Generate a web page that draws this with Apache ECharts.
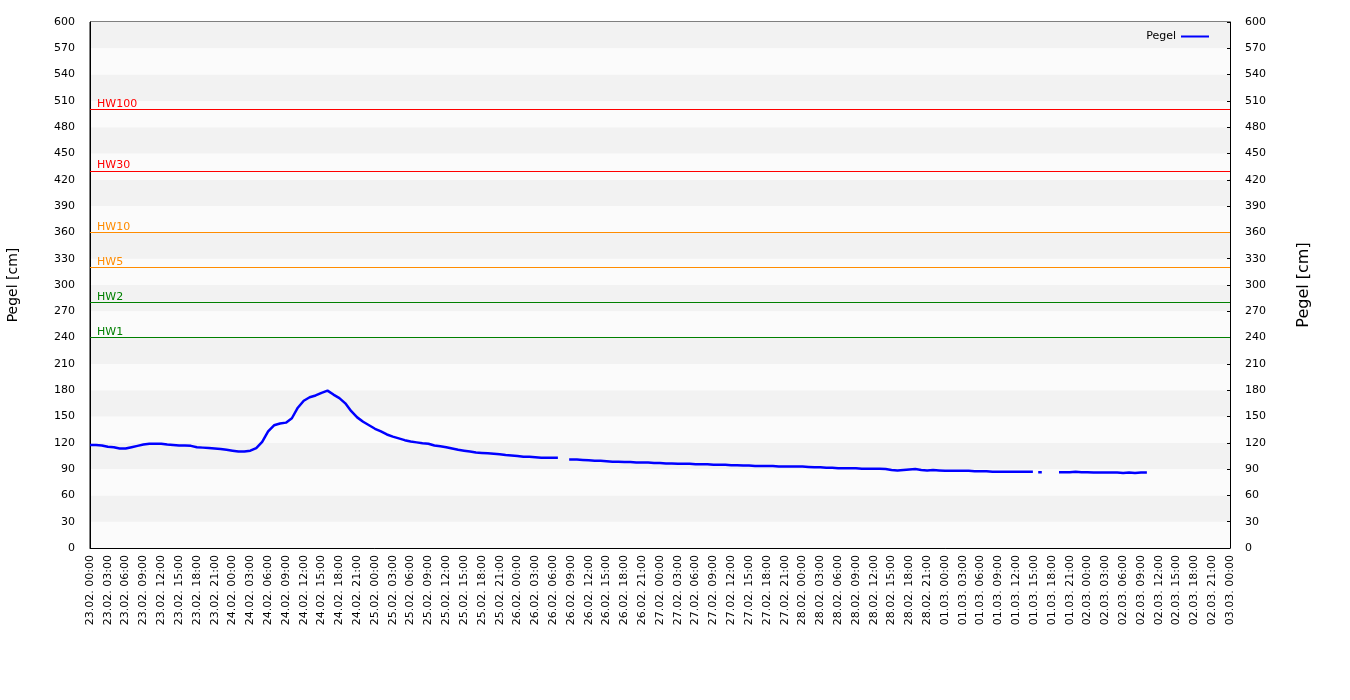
<!DOCTYPE html>
<html>
<head>
<meta charset="utf-8">
<script src="https://cdn.jsdelivr.net/npm/echarts@6/dist/echarts.min.js"></script>
<style>html,body{margin:0;padding:0;background:#fff;}#c{width:1350px;height:700px;}</style>
</head>
<body>
<div id="c"></div>
<script>
// Hourly water level (index = hours since 23.02. 00:00), null = no data
const pegelHourly = [
  117.5,117.5,117,115.5,115,113.5,113.5,115,116.5,118,119,119,
  119,118,117.5,117,117,116.5,115,114.5,114,113.5,113,112,
  111,110,110,111,114,121,133,140,142,143,148,160,
  168,172,174,177,179.5,175,171,165,156,149,144,140,
  136,133,129.5,127,125,123,121.5,120.5,119.5,119,117,116,
  115,113.5,112,111,110,109,108.5,108,107.5,107,106,105.5,
  105,104,104,103.5,103,103,103,null,null,101,101,100.5,
  100,99.5,99.5,99,98.5,98.5,98,98,97.5,97.5,97.5,97,
  97,96.5,96.5,96,96,96,95.5,95.5,95.5,95,95,95,
  94.5,94.5,94,94,93.5,93.5,93.5,93.5,93,93,93,93,
  93,92.5,92,92,91.5,91.5,91,91,91,91,90.5,90.5,
  90.5,90.5,90,89,88.5,89,89.5,90,89,88.5,89,88.5,
  88,88,88,88,88,87.5,87.5,87.5,87,87,87,87,
  87,87,87,null,86.5,null,null,null,86.5,86.5,87,86.5,
  86.5,86,86,86,86,86,85.5,86,85.5,86,86
];
// extra readings at gap edges (hours, cm)
const extraHours = [78.8, 80.7, 158.8, 159.7, 160.3, 163.2];
const extraValues = [103, 101, 87, 86.5, 86.5, 86.5];

// threshold lines
const hwNames = ['HW1','HW2','HW5','HW10','HW30','HW100'];
const hwValues = [240, 280, 320, 360, 430, 500];
const hwColors = ['#008000','#008000','#ff8c00','#ff8c00','#ff0000','#ff0000'];

// x tick labels: day part per 24 h
const dayLabels = ['23.02.','24.02.','25.02.','26.02.','27.02.','28.02.','01.03.','02.03.','03.03.'];

const pts = pegelHourly.map((v, h) => [h, v]);
extraHours.forEach((h, i) => pts.push([h, extraValues[i]]));
pts.sort((a, b) => a[0] - b[0]);

const FONT = 'DejaVu Sans';
const chart = echarts.init(document.getElementById('c'), null, {renderer: 'canvas'});

const yAxisCommon = {
  type: 'value', min: 0, max: 600, interval: 30,
  axisLine: {show: true, lineStyle: {color: '#000', width: 1}},
  axisTick: {show: true, inside: true, length: 3, lineStyle: {color: '#000'}},
  axisLabel: {color: '#000', fontFamily: FONT, fontSize: 11, margin: 15},
  splitLine: {show: false},
  name: 'Pegel [cm]', nameLocation: 'middle', nameRotate: 90,
  nameTextStyle: {color: '#000', fontFamily: FONT}
};

chart.setOption({
  animation: false,
  textStyle: {fontFamily: FONT},
  grid: {left: 90, right: 120, top: 22, bottom: 152, containLabel: false, outerBoundsMode: 'none',
         show: true, borderColor: '#000', borderWidth: 1, backgroundColor: 'transparent'},
  legend: {
    data: ['Pegel'], right: 136, top: 26, align: 'right',
    icon: 'rect', itemWidth: 28, itemHeight: 2, itemGap: 8,
    textStyle: {color: '#000', fontFamily: FONT, fontSize: 11}
  },
  xAxis: {
    type: 'value', min: 0, max: 192, interval: 3,
    axisLine: {show: true, onZero: false, lineStyle: {color: '#000'}},
    axisTick: {show: false},
    splitLine: {show: false},
    axisLabel: {
      rotate: 90, color: '#000', fontFamily: FONT, fontSize: 11, margin: 7,
      formatter: function (h) {
        const d = Math.floor(h / 24);
        const hh = h - d * 24;
        return dayLabels[d] + ' ' + (hh < 10 ? '0' : '') + hh + ':00';
      }
    }
  },
  yAxis: [
    Object.assign({}, yAxisCommon, {
      position: 'left', nameGap: 70,
      nameTextStyle: {color: '#000', fontFamily: FONT, fontSize: 14},
      axisTick: {show: false},
      splitArea: {show: true, areaStyle: {color: ['#fbfbfb', '#f2f2f2']}}
    }),
    Object.assign({}, yAxisCommon, {
      position: 'right', nameGap: 66,
      nameTextStyle: {color: '#000', fontFamily: FONT, fontSize: 16}
    })
  ],
  series: [{
    name: 'Pegel', type: 'line', data: pts, symbol: 'none', connectNulls: false,
    color: '#0000ff',
    lineStyle: {color: '#0000ff', width: 2.5},
    markLine: {
      silent: true, symbol: 'none',
      data: hwValues.map((v, i) => ({
        yAxis: v, name: hwNames[i],
        lineStyle: {color: hwColors[i], width: 1, type: 'solid', opacity: 1},
        label: {show: true, position: 'insideStartTop', formatter: hwNames[i], color: hwColors[i], fontFamily: FONT, fontSize: 11, distance: [7, 0]}
      }))
    }
  }]
});
</script>
</body>
</html>
